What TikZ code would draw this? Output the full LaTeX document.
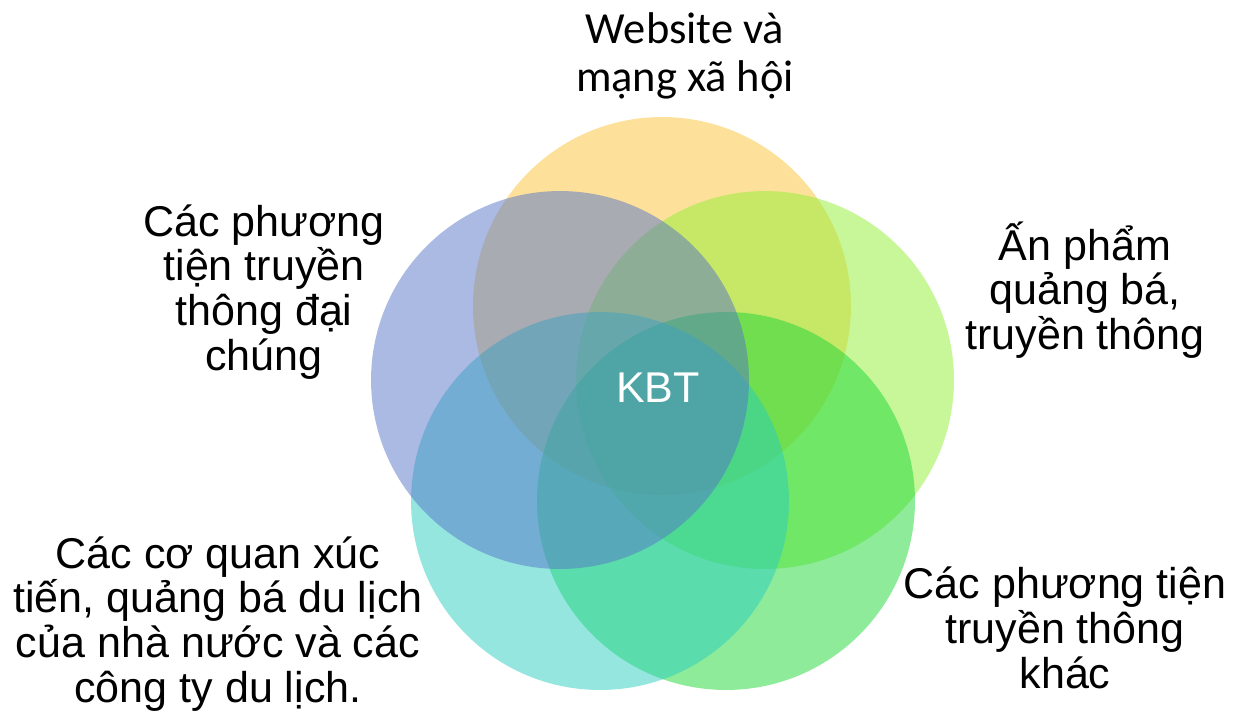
\documentclass[tikz,border=0pt]{standalone}
\usepackage{fontspec}
\setmainfont{Liberation Sans}
\newfontfamily\calfont{Carlito}
\definecolor{kbtorange}{HTML}{FBC337}
\definecolor{kbtlime}{HTML}{91EF35}
\definecolor{kbtgreen}{HTML}{1BD735}
\definecolor{kbtteal}{HTML}{29CDBF}
\definecolor{kbtblue}{HTML}{5575C7}
\tikzset{
  ring/.style={fill opacity=0.5},
  lbl/.style={align=center, inner sep=0pt, font=\fontsize{24.5}{25.5}\selectfont},
}
\begin{document}
\begin{tikzpicture}[x=0.02cm, y=-0.02cm]
 \useasboundingbox (0,0) rectangle (1239,710);
 % the five circles
 \fill[ring, kbtorange] (662,306) circle [radius=3.78cm];
 \fill[ring, kbtlime]   (765,380) circle [radius=3.78cm];
 \fill[ring, kbtgreen]  (726,501) circle [radius=3.78cm];
 \fill[ring, kbtteal]   (600,501) circle [radius=3.78cm];
 \fill[ring, kbtblue]   (560,380) circle [radius=3.78cm];
 % labels
 \node[lbl, text=white] (kbt) at (658,388) {KBT};
 \node[lbl, font=\calfont\fontsize{25.3}{27.5}\selectfont] (web) at (685,56) {Website và\\mạng xã hội};
 \node[lbl] (media) at (264,292) {Các phương\\tiện truyền\\thông đại\\chúng};
 \node[lbl] (print) at (1085,290) {Ấn phẩm\\quảng bá,\\truyền thông};
 \node[lbl] (agency) at (218,624) {Các cơ quan xúc\\tiến, quảng bá du lịch\\của nhà nước và các\\công ty du lịch.};
 \node[lbl] (other) at (1065,628) {Các phương tiện\\truyền thông\\khác};
\end{tikzpicture}
\end{document}
